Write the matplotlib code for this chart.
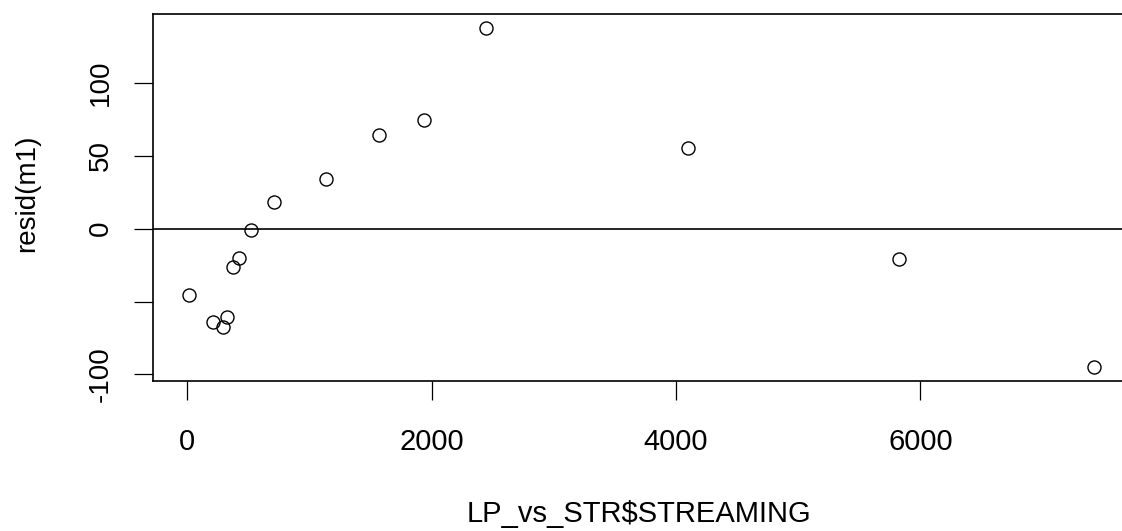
import matplotlib
matplotlib.use("Agg")
import matplotlib.pyplot as plt

# Data
streaming = [16, 207, 293, 325, 371, 420, 519, 711, 1134, 1568, 1940, 2445, 4101, 5822, 7420]
resid = [-45.4, -64.1, -67.2, -60.7, -26.6, -20.4, -0.7, 18.6, 33.8, 64.1, 74.4, 137.9, 55.5, -20.8, -95.2]

xticks = [0, 2000, 4000, 6000]
xticklabels = ["0", "2000", "4000", "6000"]
yticks = [-100, -50, 0, 50, 100]
yticklabels = ["-100", "", "0", "50", "100"]

plt.rcParams['font.family'] = ['Liberation Sans', 'DejaVu Sans']

W, H = 1122, 531
fig = plt.figure(figsize=(W / 100, H / 100), dpi=100)
left, right, top, bottom = 153, 1130, 14, 381
ax = fig.add_axes([left / W, 1 - bottom / H, (right - left) / W, (bottom - top) / H])

# R-style 4% padding
xmin, xmax = min(streaming), max(streaming)
ymin, ymax = min(resid), max(resid)
px = 0.04 * (xmax - xmin)
py = 0.04 * (ymax - ymin)
ax.set_xlim(xmin - px, xmax + px)
ax.set_ylim(ymin - py, ymax + py)

ax.axhline(0, color='black', lw=1.2, zorder=1)
ax.plot(streaming, resid, 'o', mfc='none', mec='black', ms=9.4, mew=1.0, zorder=2)

fsx = 21
fsy = 20
ax.set_xticks(xticks)
ax.set_xticklabels(xticklabels, fontsize=fsx)
ax.set_yticks(yticks)
ax.set_yticklabels(yticklabels, fontsize=fsy, rotation=90, va='center')
ax.tick_params(axis='x', length=13.5, width=0.9, pad=20)
ax.tick_params(axis='y', length=13.5, width=0.9, pad=15)
for s in ax.spines.values():
    s.set_linewidth(1.2)

fig.text(639 / W, 1 - 514 / H, "LP_vs_STR$STREAMING", ha='center', va='center', fontsize=fsx)
fig.text(27 / W, 1 - 193 / H, "resid(m1)", ha='center', va='center', rotation=90, fontsize=fsy)

fig.savefig("out.png", dpi=100)
